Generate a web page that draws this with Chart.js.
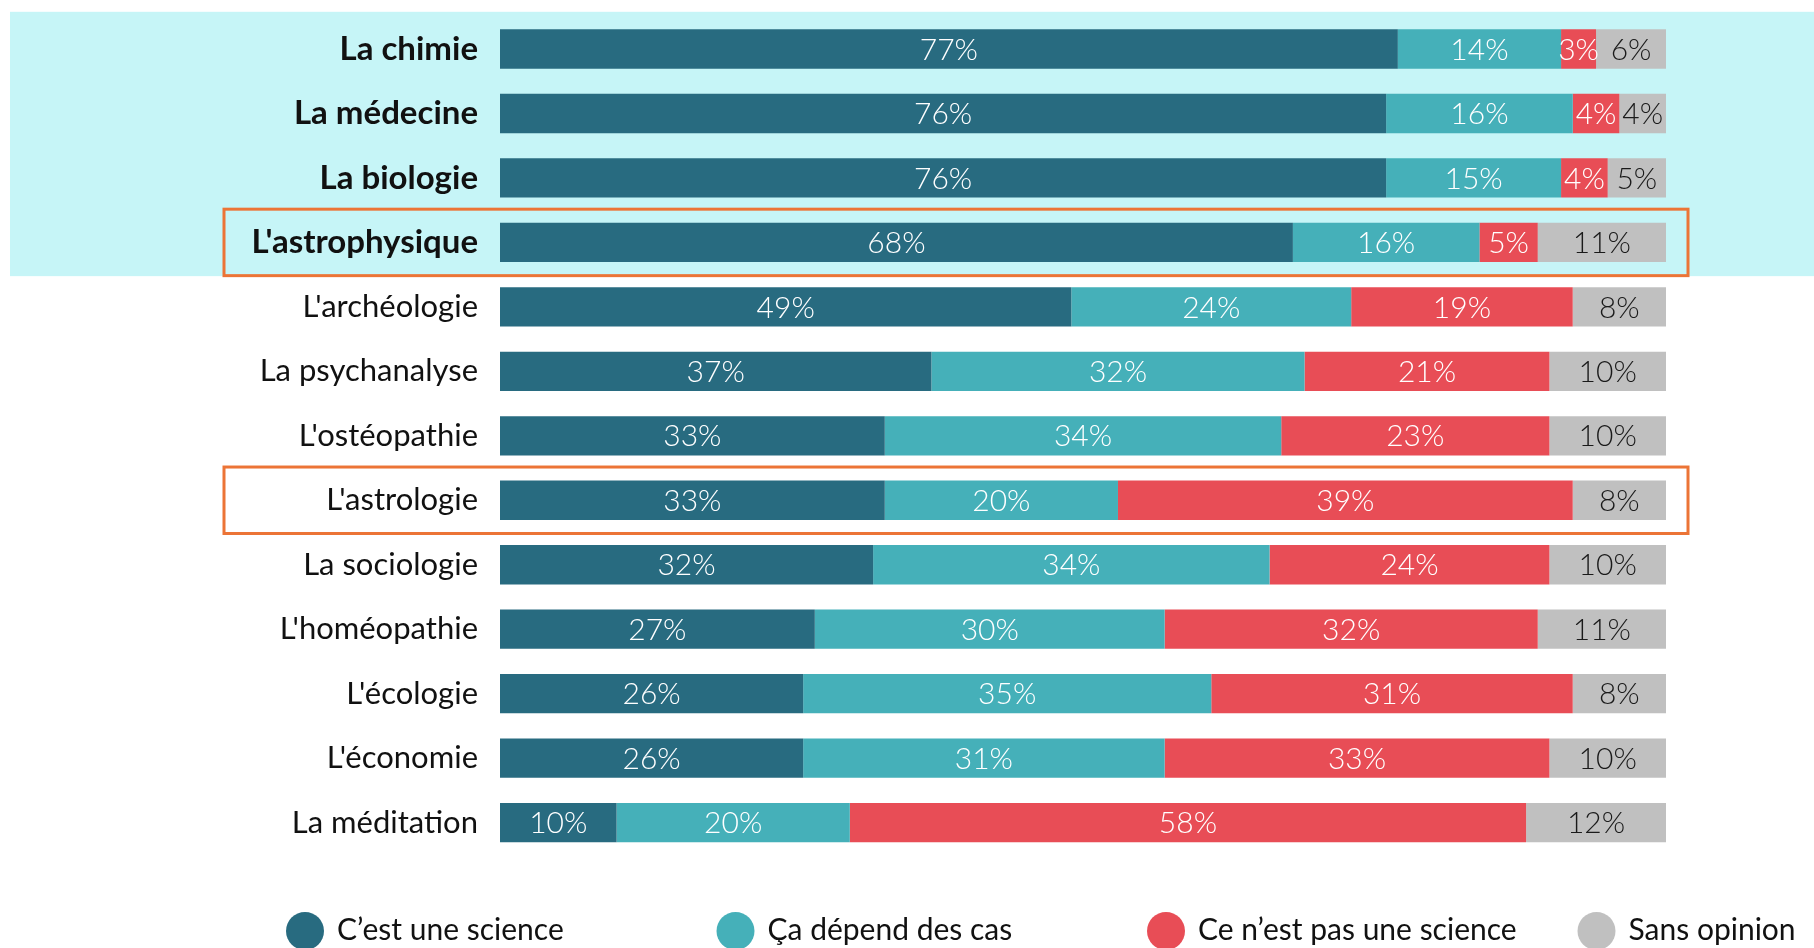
<!DOCTYPE html>
<html>
<head>
<meta charset="utf-8">
<script src="https://cdn.jsdelivr.net/npm/chart.js@4/dist/chart.umd.min.js"></script>
<style>
  html, body { margin: 0; padding: 0; background: #ffffff; }
  #wrap { width: 1814px; height: 948px; position: relative; }
</style>
</head>
<body>
<div id="wrap"><canvas id="c"></canvas></div>
<script>
const categories = ["La chimie", "La médecine", "La biologie", "L'astrophysique", "L'archéologie", "La psychanalyse", "L'ostéopathie", "L'astrologie", "La sociologie", "L'homéopathie", "L'écologie", "L'économie", "La méditation"];
const scienceValues    = [77, 76, 76, 68, 49, 37, 33, 33, 32, 27, 26, 26, 10];
const dependValues     = [14, 16, 15, 16, 24, 32, 34, 20, 34, 30, 35, 31, 20];
const notScienceValues = [3, 4, 4, 5, 19, 21, 23, 39, 24, 32, 31, 33, 58];
const noOpinionValues  = [6, 4, 5, 11, 8, 10, 10, 8, 10, 11, 8, 10, 12];
const seriesLabels = ["C’est une science", "Ça dépend des cas", "Ce n’est pas une science", "Sans opinion"];
const boldCategories = ["La chimie", "La médecine", "La biologie", "L'astrophysique"];
const boxedCategories = ["L'astrophysique", "L'astrologie"];

const colors = ["#286b80", "#45b0b9", "#e84d56", "#c0c0c0"];
const labelColors = ["#ffffff", "#ffffff", "#ffffff", "#1a1a1a"];
const FONT = "Lato, 'Open Sans', sans-serif";

const bgPlugin = {
  id: 'bgPlugin',
  beforeDraw(chart) {
    const ctx = chart.ctx, y = chart.scales.y;
    const band = y.getPixelForValue(1) - y.getPixelForValue(0);
    const idx = boldCategories.map(c => categories.indexOf(c));
    const top = y.getPixelForValue(Math.min(...idx)) - band / 2 - 5;
    const bottom = y.getPixelForValue(Math.max(...idx)) + band / 2 + 1.5;
    ctx.save();
    ctx.fillStyle = '#ffffff';
    ctx.fillRect(0, 0, chart.width, chart.height);
    ctx.fillStyle = '#c6f5f7';
    ctx.fillRect(10, top, chart.width - 10, bottom - top);
    ctx.restore();
  },
  afterDatasetsDraw(chart) {
    const ctx = chart.ctx;
    ctx.save();
    ctx.textAlign = 'center';
    ctx.textBaseline = 'middle';
    ctx.font = "300 30px " + FONT;
    chart.data.datasets.forEach((ds, i) => {
      const meta = chart.getDatasetMeta(i);
      ctx.fillStyle = labelColors[i];
      meta.data.forEach((bar, j) => {
        const cx = (bar.x + bar.base) / 2;
        ctx.fillText(ds.data[j] + '%', cx, bar.y + 1);
      });
    });
    ctx.restore();
  },
  afterDraw(chart) {
    const ctx = chart.ctx, y = chart.scales.y, area = chart.chartArea;
    const band = y.getPixelForValue(1) - y.getPixelForValue(0);
    ctx.save();
    ctx.strokeStyle = '#ec7436';
    ctx.lineWidth = 3;
    boxedCategories.forEach(c => {
      const yc = y.getPixelForValue(categories.indexOf(c));
      ctx.strokeRect(area.left - 276, yc - band / 2 - 1, (area.right + 22) - (area.left - 276), band + 2);
    });
    // legend
    const legendY = 931;
    ctx.textAlign = 'left';
    ctx.textBaseline = 'middle';
    ctx.font = "30px " + FONT;
    chart.data.datasets.forEach((ds, i) => {
      const cx = 305 + i * 430.5;
      ctx.fillStyle = ds.backgroundColor;
      ctx.beginPath();
      ctx.arc(cx, legendY, 19, 0, Math.PI * 2);
      ctx.fill();
      ctx.fillStyle = '#111111';
      ctx.fillText(ds.label, cx + 32, legendY - 1);
    });
    ctx.restore();
  }
};

const seriesValues = [scienceValues, dependValues, notScienceValues, noOpinionValues];

new Chart(document.getElementById('c'), {
  type: 'bar',
  data: {
    labels: categories,
    datasets: seriesLabels.map((label, i) => ({
      label: label,
      data: seriesValues[i],
      backgroundColor: colors[i],
      borderWidth: 0,
      barPercentage: 0.61,
      categoryPercentage: 1.0
    }))
  },
  options: {
    indexAxis: 'y',
    responsive: true,
    maintainAspectRatio: false,
    animation: false,
    devicePixelRatio: 1,
    layout: { padding: { left: 0, right: 148, top: 16.8, bottom: 93.2 } },
    plugins: {
      legend: { display: false },
      tooltip: { enabled: false }
    },
    scales: {
      x: {
        stacked: true,
        display: false,
        min: 0,
        max: 100
      },
      y: {
        stacked: true,
        grid: { display: false, drawTicks: false },
        border: { display: false },
        afterFit(scale) {
          scale.width = 500;
          scale.paddingTop = 0;
          scale.paddingBottom = 0;
        },
        ticks: {
          padding: 22,
          color: '#111111',
          font: (ctx) => {
            const bold = boldCategories.includes(categories[ctx.index]);
            return { family: FONT, size: bold ? 33 : 31, weight: bold ? 'bold' : 'normal' };
          }
        }
      }
    }
  },
  plugins: [bgPlugin]
});
</script>
</body>
</html>
